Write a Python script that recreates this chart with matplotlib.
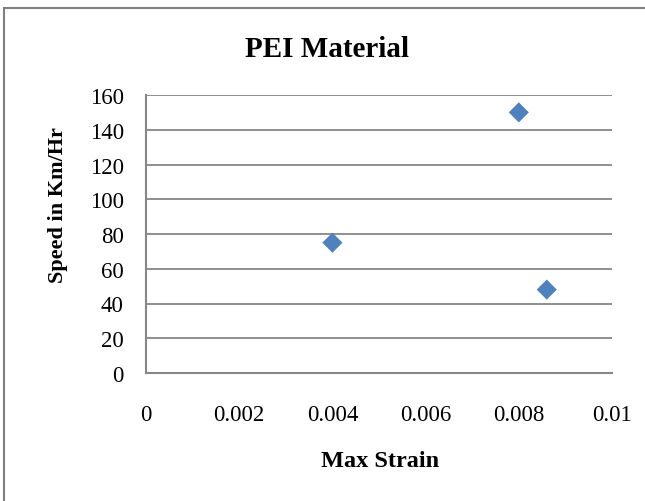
import matplotlib
matplotlib.use("Agg")
import matplotlib.pyplot as plt
from matplotlib.patches import Rectangle

plt.rcParams["font.family"] = ["Liberation Serif", "DejaVu Serif"]

# ─────────────────────────────────────────────
# Data
# ─────────────────────────────────────────────
max_strain = [0.004, 0.008, 0.0086]
speed_kmhr = [75, 150, 48]

x_ticks = [0, 0.002, 0.004, 0.006, 0.008, 0.01]
x_tick_labels = ["0", "0.002", "0.004", "0.006", "0.008", "0.01"]
y_ticks = [0, 20, 40, 60, 80, 100, 120, 140, 160]

GRAY = "#868686"
BLUE = "#4F81BD"

W, H = 645, 502
fig = plt.figure(figsize=(W / 100, H / 100), dpi=100)

# Outer chart border (cut off on the right and bottom, like the source)
fig.patches.append(Rectangle((4 / W, -0.05), 1.0, 1 - 9 / H + 0.05,
                             transform=fig.transFigure, fill=False,
                             edgecolor="#808080", linewidth=1.5))

ax = fig.add_axes([146 / W, 1 - 374 / H, 466 / W, 278 / H])

ax.scatter(max_strain, speed_kmhr, marker="D", s=105, color=BLUE,
           edgecolors="none", zorder=3, clip_on=False)

ax.set_xlim(0, 0.01)
ax.set_ylim(0, 160)
ax.set_xticks(x_ticks)
ax.set_xticklabels(x_tick_labels)
ax.set_yticks(y_ticks)

# Horizontal gridlines only
ax.grid(axis="y", color=GRAY, linewidth=1.3)
ax.set_axisbelow(True)

for side in ("top", "right"):
    ax.spines[side].set_visible(False)
for side in ("left", "bottom"):
    ax.spines[side].set_color(GRAY)
    ax.spines[side].set_linewidth(1.5)

ax.tick_params(axis="x", length=0, pad=22, labelsize=16.5)
ax.tick_params(axis="y", length=0, pad=16, labelsize=16.5)

# Titles placed in figure coords (Excel-style layout)
fig.text(327 / W, 1 - 57 / H, "PEI Material", fontsize=21,
         fontweight="bold", ha="center", va="baseline")
fig.text(380 / W, 1 - 467 / H, "Max Strain", fontsize=17.5,
         fontweight="bold", ha="center", va="baseline")
fig.text(58 / W, 1 - 205 / H, "Speed in Km/Hr", fontsize=16,
         fontweight="bold", rotation=90, ha="center", va="center")

fig.savefig("out.png", dpi=100)
